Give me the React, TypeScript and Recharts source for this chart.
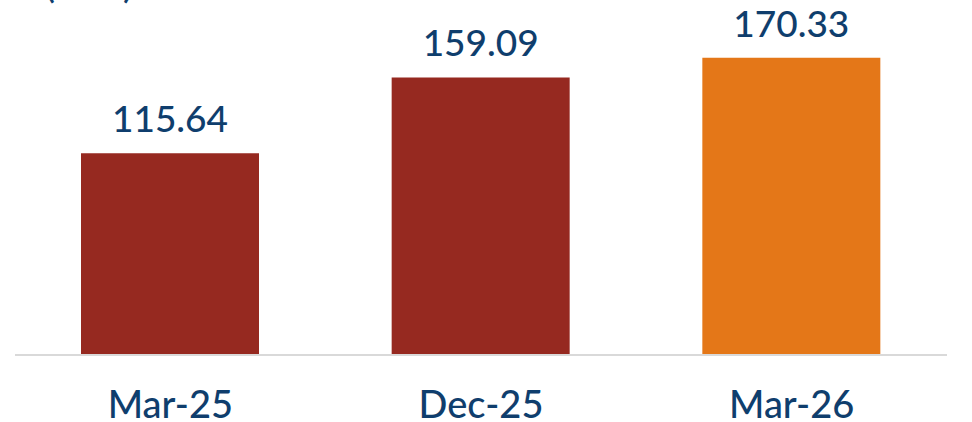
import { BarChart, Bar, XAxis, YAxis, Cell, LabelList } from "recharts";

const periods = ["Mar-25", "Dec-25", "Mar-26"];
const values = [115.64, 159.09, 170.33];
const barColors = ["#962920", "#962920", "#E47718"];
const unitLabel = "(₹ Cr)";

const data = periods.map((period, i) => ({ period, value: values[i] }));

const TEXT_BLUE = "#0f3e6d";
const FONT = "Lato, 'Open Sans', sans-serif";

const PeriodTick = (props: any) => {
  const { x = 0, y = 0, payload } = props;
  return (
    <text
      x={x}
      y={y + 55}
      textAnchor="middle"
      fill={TEXT_BLUE}
      fontSize={38}
      fontWeight={500}
      fontFamily={FONT}
    >
      {payload.value}
    </text>
  );
};

const ValueLabel = (props: any) => {
  const { x = 0, y = 0, width = 0, value } = props;
  return (
    <text
      x={x + width / 2}
      y={y - 21}
      textAnchor="middle"
      fill={TEXT_BLUE}
      fontSize={37}
      fontWeight={500}
      fontFamily={FONT}
    >
      {Number(value).toFixed(2)}
    </text>
  );
};

export default function App() {
  return (
    <div style={{ position: "relative", width: 972, height: 422 }}>
      <style>{`body{margin:0}`}</style>
      <BarChart
        width={972}
        height={422}
        data={data}
        margin={{ top: 6, right: 25, left: 15, bottom: 0 }}
      >
        <XAxis
          dataKey="period"
          height={67}
          axisLine={{ stroke: "#d9d9d9", strokeWidth: 2 }}
          tickLine={false}
          tick={PeriodTick}
          interval={0}
        />
        <YAxis hide domain={[0, 200]} />
        <Bar dataKey="value" barSize={178} isAnimationActive={false}>
          {data.map((d, i) => (
            <Cell key={d.period} fill={barColors[i]} />
          ))}
          <LabelList dataKey="value" content={ValueLabel} />
        </Bar>
        <text x={45} y={-2} fill={TEXT_BLUE} fontSize={37} fontWeight={500} fontFamily={FONT}>
          {unitLabel}
        </text>
      </BarChart>
    </div>
  );
}
